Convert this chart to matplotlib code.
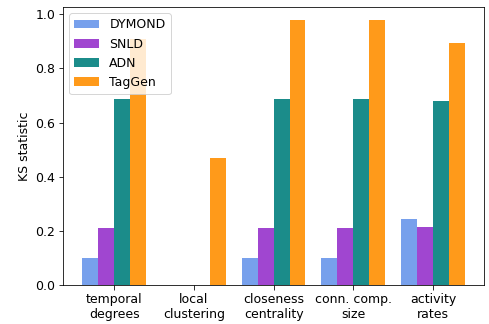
import numpy as np
import matplotlib
matplotlib.use("Agg")
import matplotlib.pyplot as plt

categories = ["temporal\ndegrees", "local\nclustering", "closeness\ncentrality",
              "conn. comp.\nsize", "activity\nrates"]
dymond = [0.10, 0.0, 0.10, 0.10, 0.243]
snld = [0.21, 0.0, 0.21, 0.21, 0.215]
adn = [0.685, 0.0, 0.685, 0.685, 0.68]
taggen = [0.91, 0.468, 0.977, 0.977, 0.895]

series = [("DYMOND", dymond, "#77a0ec"),
          ("SNLD", snld, "#a046d0"),
          ("ADN", adn, "#1b8c8a"),
          ("TagGen", taggen, "#ff9a1a")]

fs = 12.5
fig = plt.figure(figsize=(489 / 72, 324 / 72), dpi=72)
ax = fig.add_axes([0.129, 0.12, 0.861, 0.858])

x = np.arange(len(categories))
width = 0.2
for i, (name, vals, color) in enumerate(series):
    ax.bar(x + (i - 1.5) * width, vals, width, label=name, color=color)

ax.set_xticks(x)
ax.set_xticklabels(categories, fontsize=fs)
ax.set_ylabel("KS statistic", fontsize=fs)
ax.tick_params(axis="both", labelsize=fs, length=4.5)
ax.legend(loc="upper left", fontsize=fs)

fig.savefig("out.png", dpi=72)
